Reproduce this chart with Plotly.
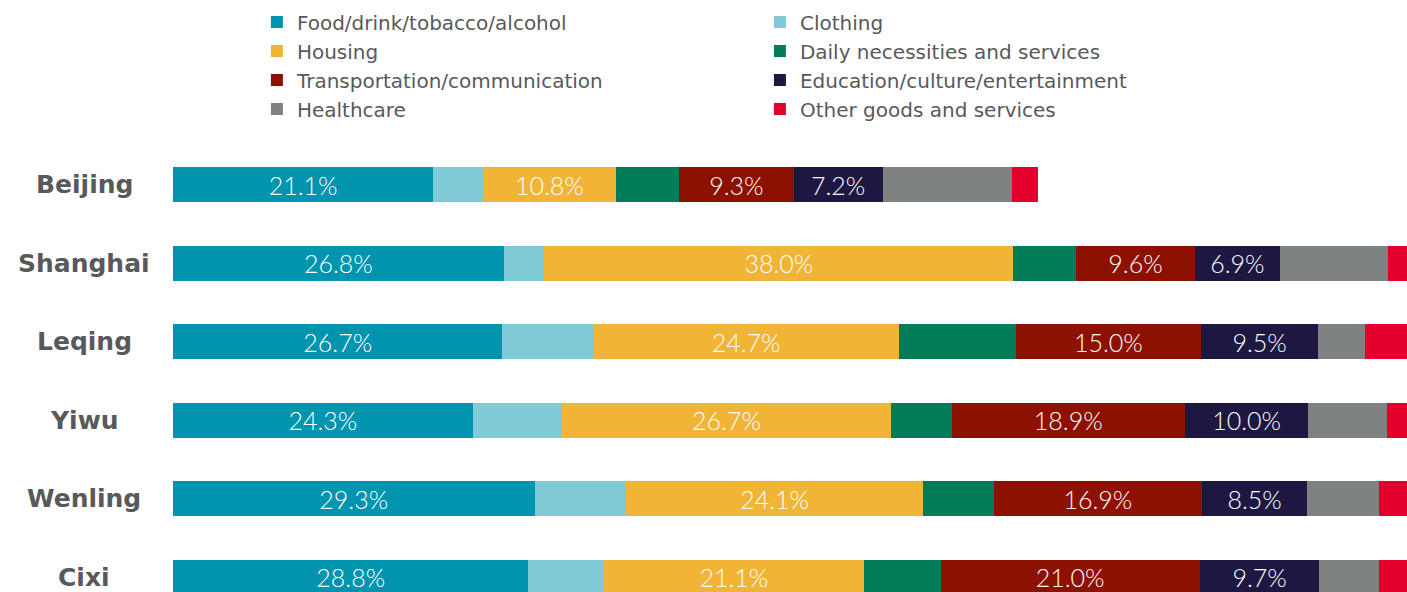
import plotly.graph_objects as go

# Household consumption structure by city (% of total spending)
cities = ["Beijing", "Shanghai", "Leqing", "Yiwu", "Wenling", "Cixi"]

food = [21.1, 26.8, 26.7, 24.3, 29.3, 28.8]
clothing = [4.0, 3.3, 7.4, 7.2, 7.4, 6.1]
housing = [10.8, 38.0, 24.7, 26.7, 24.1, 21.1]
daily = [5.1, 5.1, 9.5, 4.9, 5.7, 6.2]
transport = [9.3, 9.6, 15.0, 18.9, 16.9, 21.0]
education = [7.2, 6.9, 9.5, 10.0, 8.5, 9.7]
healthcare = [10.5, 8.8, 3.8, 6.4, 5.8, 4.8]
other = [2.1, 2.1, 3.7, 1.6, 2.3, 2.3]

series = [
    ("Food/drink/tobacco/alcohol", food, "#0094AF", True),
    ("Clothing", clothing, "#80C9D6", False),
    ("Housing", housing, "#F0B436", True),
    ("Daily necessities and services", daily, "#037C59", False),
    ("Transportation/communication", transport, "#8D1100", True),
    ("Education/culture/entertainment", education, "#1E1741", True),
    ("Healthcare", healthcare, "#7F8283", False),
    ("Other goods and services", other, "#E3002C", False),
]

TEXT_GREY = "#58595B"

fig = go.Figure()
for name, vals, color, labelled in series:
    fig.add_trace(go.Bar(
        name=name,
        y=cities,
        x=vals,
        orientation="h",
        marker=dict(color=color, line=dict(width=0)),
        text=[f"{v:.1f}%" if labelled else "" for v in vals],
        textposition="inside",
        insidetextanchor="middle",
        textangle=0,
        constraintext="none",
        textfont=dict(family="Lato", size=25, color="white", weight=300),
        width=0.446,
        hoverinfo="skip",
    ))

# City names centred in the left margin
for c in cities:
    fig.add_annotation(
        x=-0.0721, xref="paper", y=c, yref="y",
        text=c, showarrow=False, xanchor="center", yanchor="middle",
        font=dict(family="DejaVu Sans", size=25, color=TEXT_GREY, weight=700),
    )

fig.update_layout(
    width=1407, height=592,
    margin=dict(l=173, r=0, t=130, b=0),
    barmode="stack",
    plot_bgcolor="white",
    paper_bgcolor="white",
    showlegend=True,
    legend=dict(
        orientation="h",
        x=0.068, xanchor="left",
        y=1.276, yanchor="top",
        entrywidth=458,
        entrywidthmode="pixels",
        font=dict(family="DejaVu Sans", size=20, color=TEXT_GREY),
        itemclick=False, itemdoubleclick=False,
        traceorder="normal",
    ),
    xaxis=dict(range=[0, 100], showgrid=False, zeroline=False,
               showticklabels=False, ticks="", fixedrange=True),
    yaxis=dict(categoryorder="array", categoryarray=cities,
               range=[5.186, -0.70], showgrid=False, zeroline=False,
               showticklabels=False, ticks="", fixedrange=True),
)

fig.write_html("out.html")
